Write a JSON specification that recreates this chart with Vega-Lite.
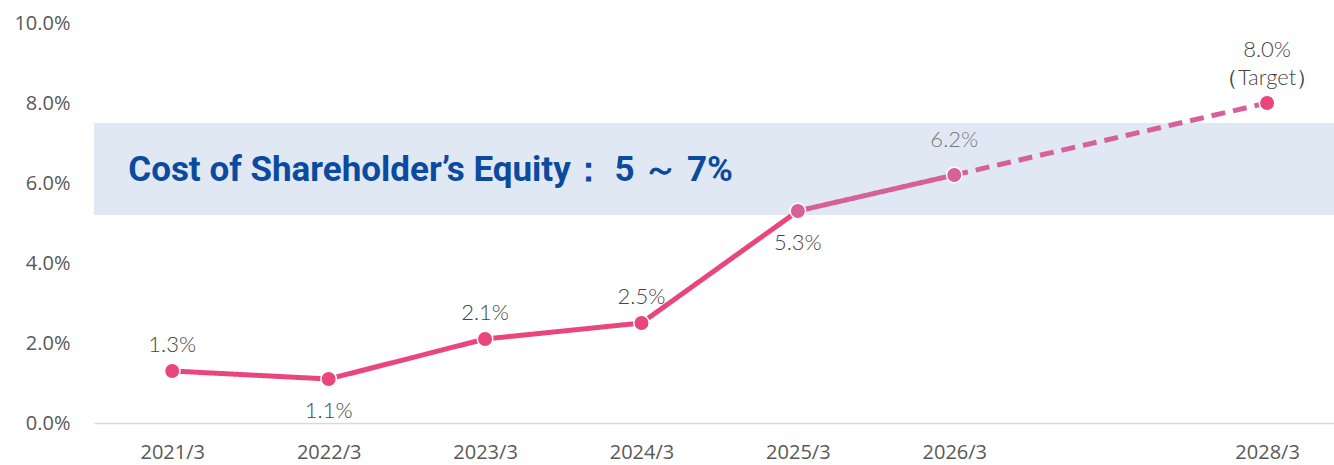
{
  "$schema": "https://vega.github.io/schema/vega-lite/v6.json",
  "width": 1240,
  "height": 400,
  "autosize": {"type": "none"},
  "padding": {"left": 94, "top": 23, "right": 0, "bottom": 42},
  "background": "white",
  "config": {
    "view": {"stroke": null},
    "font": "Open Sans",
    "axisX": {"domainColor": "#D9D9D9", "domainWidth": 1.5, "ticks": false, "tickSize": 0, "labelPadding": 19, "labelFontSize": 20, "labelColor": "#595959", "labelFont": "Open Sans", "grid": false, "title": null, "labelAngle": 0},
    "axisY": {"domain": false, "ticks": false, "tickSize": 0, "labelPadding": 24, "labelFontSize": 20, "labelColor": "#595959", "labelFont": "Open Sans", "grid": false, "title": null}
  },
  "datasets": {
    "points": [
      {"period": "2021/3", "value": 1.3, "label": "1.3%", "pos": "above", "phase": "actual"},
      {"period": "2022/3", "value": 1.1, "label": "1.1%", "pos": "below", "phase": "actual"},
      {"period": "2023/3", "value": 2.1, "label": "2.1%", "pos": "above", "phase": "actual"},
      {"period": "2024/3", "value": 2.5, "label": "2.5%", "pos": "above", "phase": "actual"},
      {"period": "2025/3", "value": 5.3, "label": "5.3%", "pos": "below", "phase": "recent"},
      {"period": "2026/3", "value": 6.2, "label": "6.2%", "pos": "forecast", "phase": "recent"},
      {"period": "2028/3", "value": 8.0, "label": "8.0%\n（Target）", "pos": "target", "phase": "target"}
    ],
    "segments": [
      {"segment": "actual", "period": "2021/3", "value": 1.3},
      {"segment": "actual", "period": "2022/3", "value": 1.1},
      {"segment": "actual", "period": "2023/3", "value": 2.1},
      {"segment": "actual", "period": "2024/3", "value": 2.5},
      {"segment": "actual", "period": "2025/3", "value": 5.3},
      {"segment": "recent", "period": "2025/3", "value": 5.3},
      {"segment": "recent", "period": "2026/3", "value": 6.2},
      {"segment": "plan", "period": "2026/3", "value": 6.2},
      {"segment": "plan", "period": "2028/3", "value": 8.0}
    ],
    "band": [
      {"period": "2021/3", "lo": 5.2, "hi": 7.5, "mid": 6.33, "label": "Cost of Shareholder’s Equity： 5 ～ 7%"}
    ]
  },
  "layer": [
    {
      "data": {"name": "band"},
      "mark": {"type": "rect", "color": "#E0E8F4"},
      "encoding": {
        "y": {"field": "lo", "type": "quantitative", "scale": {"domain": [0, 10], "nice": false}, "axis": {"values": [0, 2, 4, 6, 8, 10], "labelExpr": "format(datum.value, '.1f') + '%'"}},
        "y2": {"field": "hi"}
      }
    },
    {
      "encoding": {
        "x": {
          "field": "period",
          "type": "ordinal",
          "scale": {"type": "point", "domain": ["2021/3", "2022/3", "2023/3", "2024/3", "2025/3", "2026/3", "2027/3", "2028/3"], "padding": 0.464, "align": 0.539},
          "axis": {"labelExpr": "datum.value == '2027/3' ? '' : datum.value"}
        },
        "y": {
          "field": "value",
          "type": "quantitative",
          "scale": {"domain": [0, 10], "nice": false},
          "axis": {"values": [0, 2, 4, 6, 8, 10], "labelExpr": "format(datum.value, '.1f') + '%'"}
        }
      },
      "layer": [
        {
          "data": {"name": "band"},
          "mark": {"type": "text", "align": "left", "baseline": "middle", "dx": -44, "fontSize": 35, "fontWeight": "bold", "font": "Roboto", "color": "#0B4A9E"},
          "encoding": {
            "y": {"field": "mid", "type": "quantitative"},
            "text": {"field": "label"}
          }
        },
        {
          "data": {"name": "segments"},
          "mark": {"type": "line", "strokeWidth": 5},
          "encoding": {
            "detail": {"field": "segment"},
            "color": {"field": "segment", "type": "nominal", "scale": {"domain": ["actual", "recent", "plan"], "range": ["#E8467C", "#D6609A", "#D6609A"]}, "legend": null},
            "strokeDash": {"field": "segment", "type": "nominal", "scale": {"domain": ["actual", "recent", "plan"], "range": [[1, 0], [1, 0], [14, 8]]}, "legend": null}
          }
        },
        {
          "data": {"name": "points"},
          "mark": {"type": "point", "filled": true, "opacity": 1, "size": 240, "stroke": "white", "strokeWidth": 1.5},
          "encoding": {
            "fill": {"field": "phase", "type": "nominal", "scale": {"domain": ["actual", "recent", "target"], "range": ["#E8467C", "#D6609A", "#E8467C"]}, "legend": null}
          }
        },
        {
          "data": {"name": "points"},
          "transform": [{"filter": "datum.pos == 'above'"}],
          "mark": {"type": "text", "baseline": "middle", "dy": -26, "fontSize": 22, "font": "Lato", "fontWeight": 300, "color": "#454545"},
          "encoding": {"text": {"field": "label"}}
        },
        {
          "data": {"name": "points"},
          "transform": [{"filter": "datum.pos == 'below'"}],
          "mark": {"type": "text", "baseline": "middle", "dy": 32, "fontSize": 22, "font": "Lato", "fontWeight": 300, "color": "#454545"},
          "encoding": {"text": {"field": "label"}}
        },
        {
          "data": {"name": "points"},
          "transform": [{"filter": "datum.pos == 'forecast'"}],
          "mark": {"type": "text", "baseline": "middle", "dy": -35, "fontSize": 22, "font": "Lato", "fontWeight": 300, "color": "#7A7A7A"},
          "encoding": {"text": {"field": "label"}}
        },
        {
          "data": {"name": "points"},
          "transform": [{"filter": "datum.pos == 'target'"}],
          "mark": {"type": "text", "baseline": "middle", "dy": -53, "lineBreak": "\n", "lineHeight": 28, "fontSize": 22, "font": "Lato", "fontWeight": 300, "color": "#454545"},
          "encoding": {"text": {"field": "label"}}
        }
      ]
    }
  ]
}
